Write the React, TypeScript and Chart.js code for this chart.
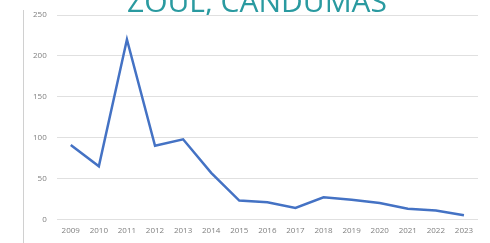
import React, { useEffect, useRef } from "react";
import { Chart, registerables } from "chart.js";

Chart.register(...registerables);

const years = ["2009","2010","2011","2012","2013","2014","2015","2016","2017","2018","2019","2020","2021","2022","2023"];
const values = [91, 65, 220, 90, 98, 57, 23, 21, 14, 27, 24, 20, 13, 11, 5];
const yTicks = [0, 50, 100, 150, 200, 250];
const titleText = "ZOUL, CANDUMAS";

const decor = {
  id: "decor",
  beforeDraw(chart: any) {
    const ctx = chart.ctx;
    ctx.save();
    ctx.fillStyle = "#ffffff";
    ctx.fillRect(0, 0, chart.width, chart.height);
    ctx.strokeStyle = "#d0d0d0";
    ctx.lineWidth = 1;
    ctx.beginPath();
    ctx.moveTo(23.5, 10);
    ctx.lineTo(23.5, chart.height);
    ctx.stroke();
    ctx.fillStyle = "#2a9aa0";
    ctx.font = "30px 'Open Sans', sans-serif";
    ctx.textAlign = "center";
    ctx.textBaseline = "alphabetic";
    ctx.fillText(titleText, 257, 12);
    ctx.restore();
  },
};

export default function App() {
  const ref = useRef<HTMLCanvasElement>(null);
  useEffect(() => {
    document.body.style.margin = "0";
    const chart = new Chart(ref.current!, {
      type: "line",
      data: {
        labels: years,
        datasets: [
          {
            data: values,
            borderColor: "#4472c4",
            borderWidth: 2.5,
            pointRadius: 0,
            tension: 0,
            fill: false,
          },
        ],
      },
      options: {
        animation: false,
        responsive: false,
        layout: { padding: { left: 23, right: 12, top: 15, bottom: 0 } },
        plugins: { legend: { display: false }, title: { display: false }, tooltip: { enabled: false } },
        scales: {
          x: {
            offset: true,
            grid: { display: false, drawTicks: false },
            border: { display: false },
            ticks: { color: "#7f7f7f", font: { size: 8, family: "'Open Sans', sans-serif" }, maxRotation: 0, autoSkip: false, padding: 7 },
          },
          y: {
            min: 0,
            max: 250,
            afterBuildTicks: (axis: any) => {
              axis.ticks = yTicks.map((v) => ({ value: v }));
            },
            grid: { color: "#e0e0e0", drawTicks: false, lineWidth: 1 },
            border: { display: false },
            ticks: { color: "#7f7f7f", font: { size: 8, family: "'Open Sans', sans-serif" }, padding: 10 },
          },
        },
      },
      plugins: [decor],
    });
    return () => chart.destroy();
  }, []);
  return <canvas ref={ref} width={490} height={243} style={{ display: "block" }} />;
}
